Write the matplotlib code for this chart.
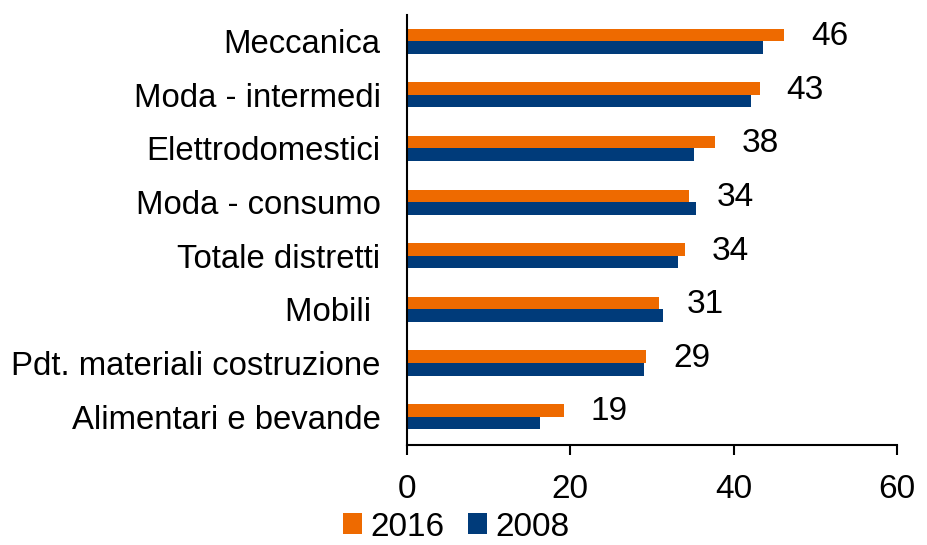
import numpy as np
import matplotlib.pyplot as plt

plt.rcParams['font.family'] = ['Liberation Sans', 'DejaVu Sans']

FONTSIZE = 24
ORANGE = '#EE6A00'
NAVY = '#003B7A'

# data
categories = ['Meccanica', 'Moda - intermedi', 'Elettrodomestici', 'Moda - consumo',
              'Totale distretti', 'Mobili ', 'Pdt. materiali costruzione',
              'Alimentari e bevande']
values_2016 = [46.2, 43.2, 37.7, 34.6, 34.0, 30.9, 29.3, 19.2]
values_2008 = [43.6, 42.1, 35.1, 35.4, 33.2, 31.3, 29.0, 16.3]
labels_2016 = ['46', '43', '38', '34', '34', '31', '29', '19']

# figure
fig = plt.figure(figsize=(9.27, 5.45), dpi=100)
ax = fig.add_axes([0.439, 0.1835, 0.5285, 0.789])

y = np.arange(len(categories))
h = 0.235
ax.barh(y - h / 2, values_2016, height=h, color=ORANGE, label='2016')
ax.barh(y + h / 2, values_2008, height=h, color=NAVY, label='2008')

for yi, v, lab in zip(y, values_2016, labels_2016):
    ax.text(v + 3.3, yi - h / 2 + 0.03, lab, fontsize=FONTSIZE, ha='left', va='center')

ax.set_ylim(len(categories) - 0.47, -0.49)
ax.set_xlim(0, 60)
ax.set_xticks([0, 20, 40, 60])
ax.set_yticks(y)
ax.set_yticklabels(categories, fontsize=23.7)
ax.tick_params(axis='x', labelsize=FONTSIZE, length=7, width=1.5, pad=14, direction='out')
ax.tick_params(axis='y', length=0, pad=19)
ax.spines['right'].set_visible(False)
ax.spines['top'].set_visible(False)
ax.spines['left'].set_linewidth(1.5)
ax.spines['bottom'].set_linewidth(1.5)

fig.legend(loc='center left', bbox_to_anchor=(0.37, 0.033), ncol=2, frameon=False,
           fontsize=FONTSIZE, handlelength=0.57, handleheight=0.57, handletextpad=0.25,
           columnspacing=0.7, borderpad=0, borderaxespad=0)

plt.savefig('out.png', dpi=100)
